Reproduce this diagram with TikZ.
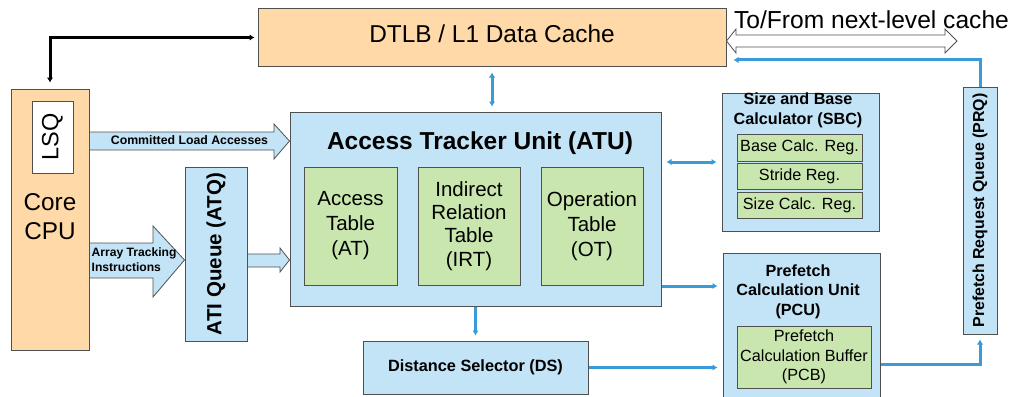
\documentclass[tikz,border=0pt]{standalone}
\usepackage{fontspec}
\setmainfont{Liberation Sans}
\usetikzlibrary{arrows.meta,calc}
\definecolor{peach}{HTML}{FFD9A8}
\definecolor{paleblue}{HTML}{C3E3F6}
\definecolor{palegreen}{HTML}{C8E6AD}
\definecolor{linkblue}{HTML}{3A9BDA}
\definecolor{edge}{HTML}{505050}
\newcommand{\fs}[2]{\fontsize{#1}{#2}\selectfont}
\tikzset{
  box/.style={draw=edge, line width=1pt, inner sep=0pt, align=center, text=black},
  cachebox/.style={box, fill=peach},
  unitbox/.style={box, fill=paleblue},
  tablebox/.style={box, fill=palegreen},
  plain/.style={inner sep=0pt, align=center},
  link/.style={draw=linkblue, line width=3pt, -{Latex[length=5pt,width=6.5pt]}},
  link2/.style={link, {Latex[length=5pt,width=6.5pt]}-{Latex[length=5pt,width=6.5pt]}},
  blacklink/.style={draw=black, line width=3pt, {Latex[length=5pt,width=6.5pt]}-{Latex[length=5pt,width=6.5pt]}},
  fatarrow/.style={draw=edge, line width=0.8pt, fill=paleblue, line join=miter},
}
\begin{document}
\begin{tikzpicture}[x=1pt, y=-1pt]
\useasboundingbox (0,0) rectangle (1011,396);
\clip (0,0) rectangle (1011,396);

% cache and core
\node[cachebox, minimum width=468pt, minimum height=57pt] (dtlb) at (492,37.5) {};
\node[plain, font=\fs{24.4}{28}] (dtlbtxt) at (492,33.5) {DTLB / L1 Data Cache};
\node[cachebox, minimum width=78pt, minimum height=261pt] (cpu) at (50,219.5) {};
\node[box, fill=white, minimum width=41pt, minimum height=72pt] (lsq) at (52.5,137) {\rotatebox{90}{\fs{23.5}{26}LSQ}};
\node[plain, font=\fs{24.3}{29}] (cputxt) at (50,217) {Core\\CPU};

% access tracker unit
\node[unitbox, minimum width=371pt, minimum height=194pt] (atu) at (475.5,209) {};
\node[plain, font=\fs{24.5}{28}\bfseries] (atutitle) at (480,143) {Access Tracker Unit (ATU)};
\node[tablebox, minimum width=93pt, minimum height=118pt, font=\fs{20.5}{25}] (at) at (350.5,226) {Access\\Table\\(AT)};
\node[tablebox, minimum width=102pt, minimum height=118pt, font=\fs{20.5}{23.3}] (irt) at (469,226) {Indirect\\Relation\\Table\\(IRT)};
\node[tablebox, minimum width=102pt, minimum height=118pt, font=\fs{20.5}{25}] (ot) at (592,226) {Operation\\Table\\(OT)};

% queue and selector
\node[unitbox, minimum width=62pt, minimum height=174pt] (atq) at (216,254) {\rotatebox{90}{\fs{20.5}{24}\bfseries ATI Queue (ATQ)}};
\node[unitbox, minimum width=225pt, minimum height=53pt, font=\fs{16.3}{19}\bfseries] (ds) at (475.5,367.5) {Distance Selector (DS)};

% size and base calculator
\node[unitbox, minimum width=157pt, minimum height=138pt] (sbc) at (800.5,162) {};
\node[plain, font=\fs{16.2}{20}\bfseries] (sbctitle) at (798,110.5) {Size and Base\\Calculator (SBC)};
\node[tablebox, minimum width=125pt, minimum height=27pt, font=\fs{16.2}{19}] (bcr) at (799.5,147.5) {Base Calc. Reg.};
\node[tablebox, minimum width=125pt, minimum height=26pt, font=\fs{16.2}{19}] (sr) at (799.5,176) {Stride Reg.};
\node[tablebox, minimum width=125pt, minimum height=26pt, font=\fs{16.2}{19}] (scr) at (799.5,205) {Size Calc. Reg.};

% prefetch calculation unit
\node[unitbox, minimum width=157pt, minimum height=151pt] (pcu) at (801.5,328.5) {};
\node[plain, font=\fs{16.2}{19.5}\bfseries] (pcutitle) at (798,291.5) {Prefetch\\Calculation Unit\\(PCU)};
\node[tablebox, minimum width=134pt, minimum height=62pt, font=\fs{16.2}{19.5}] (pcb) at (804,357) {Prefetch\\Calculation Buffer\\(PCB)};

% prefetch request queue
\node[unitbox, minimum width=34pt, minimum height=247pt] (prq) at (980,210.5) {\rotatebox{90}{\fs{15.9}{18}\bfseries Prefetch Request Queue (PRQ)}};

% wide arrows into the tracker
\draw[fatarrow] (cpu.east |- 0,132) -- (274,132) -- (274,124) -- (atu.west |- 0,141) -- (274,159) -- (274,150) -- (cpu.east |- 0,150) -- cycle;
\node[plain, font=\fs{12.3}{14}\bfseries] (cla) at (189.5,140.5) {Committed Load Accesses};
\draw[fatarrow] (cpu.east |- 0,243) -- (153,243) -- (153,226) -- (atq.west |- 0,260) -- (153,297) -- (153,278) -- (cpu.east |- 0,278) -- cycle;
\node[plain, align=left, anchor=west, font=\fs{12.1}{15}\bfseries] (ati) at (91.5,260) {Array Tracking\\Instructions};
\draw[fatarrow] (atq.east |- 0,254) -- (280,254) -- (280,248) -- (atu.west |- 0,260) -- (280,272) -- (280,267) -- (atq.east |- 0,267) -- cycle;

% next-level cache port
\draw[draw=edge, line width=0.8pt, fill=white] (dtlb.east |- 0,41) -- (736,29) -- (736,35) -- (945,35) -- (945,29) -- (957,41) -- (945,53) -- (945,47) -- (736,47) -- (736,53) -- cycle;
\node[plain, font=\fs{24.6}{28}] (nlc) at (871.5,20) {To/From next-level cache};

% connectors
\draw[blacklink, shorten <=3pt, shorten >=6pt] (dtlb.west) -| (cpu.north);
\draw[link2, shorten <=6pt, shorten >=5pt] (dtlb.south) -- (dtlb.south |- atu.north);
\draw[link, shorten >=5pt] (atu.south) -- (ds.north);
\draw[link2, shorten <=5pt, shorten >=5pt] (atu.east |- sbc.center) -- (sbc.west);
\draw[link, shorten >=5pt] ([yshift=-77pt]atu.east) -- ([yshift=-77pt]atu.east -| pcu.west);
\draw[link, shorten >=5pt] (ds.east) -- (ds.east -| pcu.west);
\draw[link, shorten >=5pt] ([yshift=-7pt]pcb.east -| pcu.east) -| (prq.south);
\draw[link] (prq.north) |- ([xshift=7pt,yshift=-22.5pt]dtlb.east);
\end{tikzpicture}
\end{document}
